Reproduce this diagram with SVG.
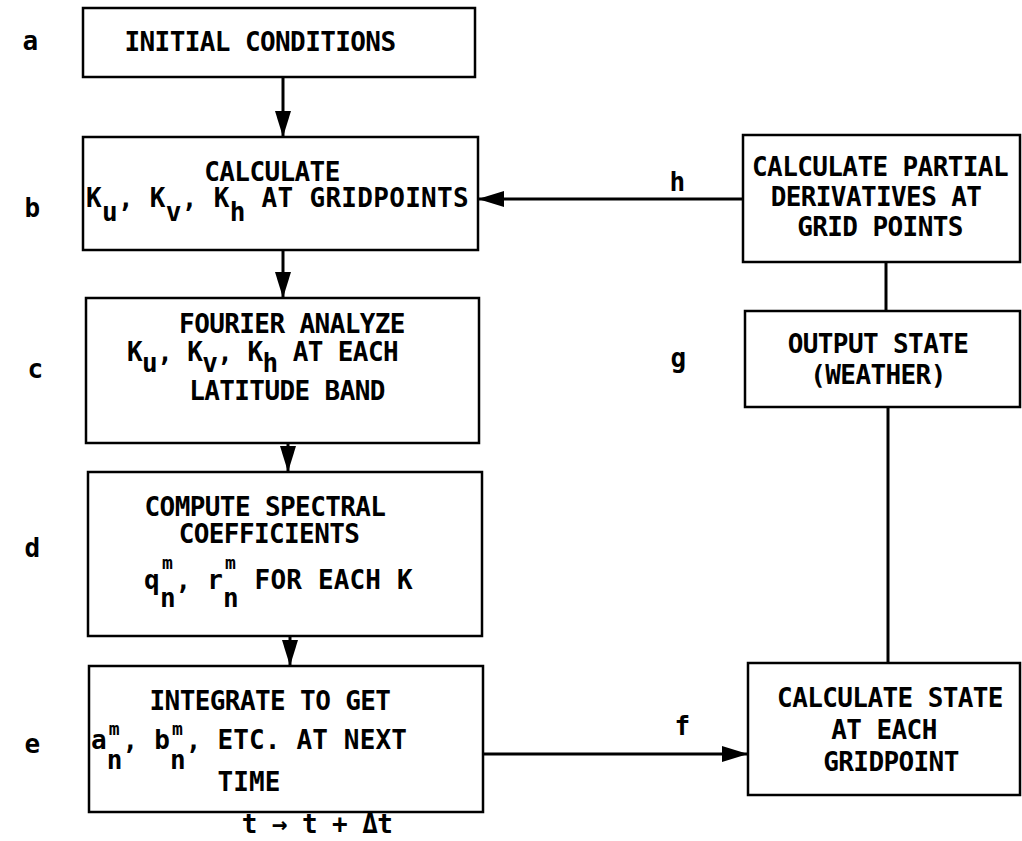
<svg xmlns="http://www.w3.org/2000/svg" width="1022" height="841" viewBox="0 0 1022 841">
<style>
.box{fill:#fff;stroke:#000;stroke-width:2.5}
.t{font-family:"DejaVu Sans Mono","Liberation Mono",monospace;font-size:26px;font-weight:bold;fill:#000;letter-spacing:-0.6px}
.c{text-anchor:middle}
.sup{font-size:18px;letter-spacing:0}
.ln{stroke:#000;stroke-width:3;fill:none}
</style>
<defs>
<marker id="ah" viewBox="0 0 26 16" refX="26" refY="8" markerWidth="26" markerHeight="16" markerUnits="userSpaceOnUse" orient="auto">
<path d="M0,0 L26,8 L0,16 z" fill="#000"/>
</marker>
</defs>
<rect width="1022" height="841" fill="#fff"/>
<g id="connectors">
<line class="ln" x1="283" y1="77" x2="283" y2="137" marker-end="url(#ah)"/>
<line class="ln" x1="283" y1="250" x2="283" y2="298" marker-end="url(#ah)"/>
<line class="ln" x1="288" y1="443" x2="288" y2="472" marker-end="url(#ah)"/>
<line class="ln" x1="290" y1="636" x2="290" y2="666" marker-end="url(#ah)"/>
<line class="ln" x1="743" y1="199" x2="478" y2="199" marker-end="url(#ah)"/>
<line class="ln" x1="886" y1="262" x2="886" y2="311"/>
<line class="ln" x1="888" y1="407" x2="888" y2="663"/>
<line class="ln" x1="483" y1="754" x2="748" y2="754" marker-end="url(#ah)"/>
<text class="t" x="677" y="191" text-anchor="middle">h</text>
<text class="t" x="678" y="367" text-anchor="middle">g</text>
<text class="t" x="682" y="735" text-anchor="middle">f</text>
<text class="t" x="317" y="833" text-anchor="middle">t → t + Δt</text>
</g>
<g id="labels">
<text class="t" x="30" y="50" text-anchor="middle">a</text>
<text class="t" x="32" y="217" text-anchor="middle">b</text>
<text class="t" x="35" y="378" text-anchor="middle">c</text>
<text class="t" x="32" y="557" text-anchor="middle">d</text>
<text class="t" x="32" y="753" text-anchor="middle">e</text>
</g>
<g id="node-a">
<rect class="box" x="83" y="8" width="392" height="69"/>
<text class="t c" x="260" y="51">INITIAL CONDITIONS</text>
</g>
<g id="node-b">
<rect class="box" x="83" y="137" width="395" height="113"/>
<text class="t c" x="272" y="181">CALCULATE</text>
<text class="t" x="86" y="207" style="letter-spacing:0.3px">K<tspan dy="14">u</tspan><tspan dy="-14">, K</tspan><tspan dy="14">v</tspan><tspan dy="-14">, K</tspan><tspan dy="14">h</tspan><tspan dy="-14"> AT GRIDPOINTS</tspan></text>
</g>
<g id="node-c">
<rect class="box" x="86" y="298" width="393" height="145"/>
<text class="t c" x="292" y="333">FOURIER ANALYZE</text>
<text class="t" x="127" y="361">K<tspan dy="11">u</tspan><tspan dy="-11">, K</tspan><tspan dy="11">v</tspan><tspan dy="-11">, K</tspan><tspan dy="11">h</tspan><tspan dy="-11"> AT EACH</tspan></text>
<text class="t c" x="287" y="400">LATITUDE BAND</text>
</g>
<g id="node-d">
<rect class="box" x="88" y="472" width="394" height="164"/>
<text class="t c" x="265" y="516">COMPUTE SPECTRAL</text>
<text class="t c" x="269" y="543">COEFFICIENTS</text>
<text class="t" x="144" y="589">q</text>
<text class="t sup" x="162" y="569">m</text>
<text class="t" x="160" y="607">n</text>
<text class="t" x="175.6" y="589" style="letter-spacing:0.17px">, r</text>
<text class="t sup" x="225" y="569">m</text>
<text class="t" x="223" y="607">n</text>
<text class="t" x="254.6" y="589" style="letter-spacing:0.17px">FOR EACH K</text>
</g>
<g id="node-e">
<rect class="box" x="89" y="666" width="394" height="146"/>
<text class="t c" x="270" y="710">INTEGRATE TO GET</text>
<text class="t" x="91" y="749">a</text>
<text class="t sup" x="108.8" y="735">m</text>
<text class="t" x="106.8" y="769">n</text>
<text class="t" x="122.6" y="749" style="letter-spacing:0.15px">, b</text>
<text class="t sup" x="172" y="735">m</text>
<text class="t" x="170" y="769">n</text>
<text class="t" x="185.8" y="749" style="letter-spacing:0.15px">, ETC. AT NEXT</text>
<text class="t" x="217.4" y="791" style="letter-spacing:0.15px">TIME</text>
</g>
<g id="node-h">
<rect class="box" x="743" y="135" width="277" height="127"/>
<text class="t c" x="880" y="176">CALCULATE PARTIAL</text>
<text class="t c" x="876" y="206">DERIVATIVES AT</text>
<text class="t c" x="880" y="236">GRID POINTS</text>
</g>
<g id="node-g">
<rect class="box" x="745" y="311" width="275" height="96"/>
<text class="t c" x="878" y="353">OUTPUT STATE</text>
<text class="t c" x="878" y="384">(WEATHER)</text>
</g>
<g id="node-f">
<rect class="box" x="748" y="663" width="272" height="132"/>
<text class="t c" x="890" y="707">CALCULATE STATE</text>
<text class="t c" x="884" y="739">AT EACH</text>
<text class="t c" x="891" y="771">GRIDPOINT</text>
</g>
</svg>
